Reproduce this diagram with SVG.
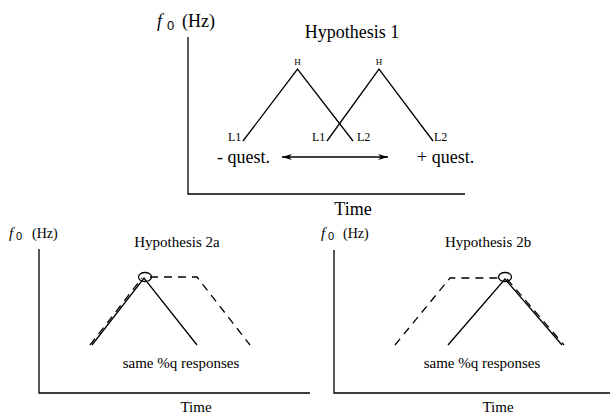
<svg xmlns="http://www.w3.org/2000/svg" width="610" height="414" viewBox="0 0 610 414">
<style>
text{font-family:"Liberation Serif","Times New Roman",serif;fill:#000}
.ax,.ln{stroke:#000;stroke-width:1.3;fill:none}
.ds{stroke:#000;stroke-width:1.3;fill:none;stroke-dasharray:8 6}
.t18{font-size:18px}
.t15{font-size:15px}
.sm{font-size:12px}
.xs{font-size:9px}
.sub{font-family:"Liberation Sans","Arial",sans-serif}
</style>
<defs>
<marker id="ah" viewBox="0 0 10 6" refX="10" refY="3" markerWidth="10" markerHeight="6" markerUnits="userSpaceOnUse" orient="auto-start-reverse">
<path d="M0,0 L10,3 L0,6 L3,3 Z" fill="#000"/>
</marker>
</defs>
<g id="panel1">
<g id="axes1">
<path class="ax" d="M188,37 V194 H465"/>
<text class="t18" x="157" y="27" font-style="italic">f</text>
<text class="sub" x="167" y="30" font-size="13">0</text>
<text class="t18" x="182" y="27">(Hz)</text>
<text class="t18" x="353" y="215" text-anchor="middle">Time</text>
</g>
<text class="t18" x="352" y="38" text-anchor="middle">Hypothesis 1</text>
<g id="contour1">
<path class="ln" d="M243,141 L297.5,69 L353,141"/>
<text class="xs" x="297.5" y="65" text-anchor="middle">H</text>
<text class="sm" x="228" y="141">L1</text>
<text class="sm" x="357" y="141">L2</text>
</g>
<g id="contour2">
<path class="ln" d="M327,141 L379,69 L433,141"/>
<text class="xs" x="379" y="65" text-anchor="middle">H</text>
<text class="sm" x="312" y="141">L1</text>
<text class="sm" x="434" y="141">L2</text>
</g>
<text class="t18" x="217" y="163">- quest.</text>
<text class="t18" x="417" y="163">+ quest.</text>
</g>
<g id="connectors">
<line class="ln" x1="282" y1="157" x2="388" y2="157" marker-start="url(#ah)" marker-end="url(#ah)"/>
</g>
<g id="panel2a">
<path class="ax" d="M39,249 V393 H310"/>
<text class="t15" x="9" y="238" font-style="italic">f</text>
<text class="sub" x="16" y="240" font-size="11">0</text>
<text x="32" y="238" font-size="14">(Hz)</text>
<text class="t15" x="196" y="412" text-anchor="middle">Time</text>
<text class="t15" x="177" y="247" text-anchor="middle">Hypothesis 2a</text>
<path class="ln" d="M92,345 L144,278 L197,345"/>
<path class="ds" d="M90,345 L142,278"/>
<path class="ds" d="M150,277 H197 L250,345"/>
<ellipse class="ln" cx="145" cy="277" rx="6.5" ry="4.5"/>
<text class="t15" x="181" y="368" text-anchor="middle">same %q responses</text>
</g>
<g id="panel2b">
<path class="ax" d="M334,250 V393 H610"/>
<text class="t15" x="321" y="238" font-style="italic">f</text>
<text class="sub" x="328" y="240" font-size="11">0</text>
<text x="343" y="238" font-size="14">(Hz)</text>
<text class="t15" x="498" y="412" text-anchor="middle">Time</text>
<text class="t15" x="488" y="247" text-anchor="middle">Hypothesis 2b</text>
<path class="ln" d="M448,345 L505,279 L562,345"/>
<path class="ds" d="M507,279 L564,345"/>
<path class="ds" d="M395,345 L450,278 H500"/>
<ellipse class="ln" cx="505" cy="277" rx="6.5" ry="4.5"/>
<text class="t15" x="482" y="368" text-anchor="middle">same %q responses</text>
</g>
</svg>
